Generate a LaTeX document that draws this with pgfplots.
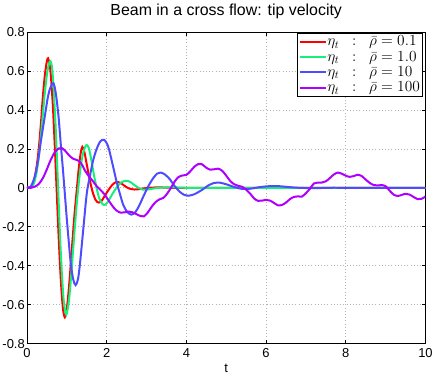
\RequirePackage{fix-cm}
\documentclass[border=0pt]{standalone}
\usepackage[no-math]{fontspec}
\setmainfont{Liberation Sans}
\usepackage{pgfplots}
\pgfplotsset{compat=1.18}

\definecolor{cred}{RGB}{255,0,0}
\definecolor{cgreen}{RGB}{20,240,120}
\definecolor{cblue}{RGB}{77,77,255}
\definecolor{cpurple}{RGB}{175,0,255}

\begin{document}
\begin{tikzpicture}
\begin{axis}[
    name=ax,
    scale only axis,
    width=399bp, height=312bp,
    xmin=0, xmax=10, ymin=-0.8, ymax=0.8,
    xtick={0,2,4,6,8,10},
    ytick={-0.8,-0.6,-0.4,-0.2,0,0.2,0.4,0.6,0.8},
    yticklabels={-0.8,-0.6,-0.4,-0.2,0,0.2,0.4,0.6,0.8},
    /pgf/number format/assume math mode=true,
    tick label style={font=\fontsize{13}{15}\selectfont},
    xticklabel style={yshift=-1.5bp},
    yticklabel style={inner xsep=0.5bp, xshift=-1.5bp},
    title={Beam in a cross flow: tip velocity},
    title style={font=\fontsize{16}{19}\selectfont, at={(axis description cs:0.5,1)}, anchor=base, yshift=11bp},
    xlabel={t},
    xlabel style={font=\fontsize{13}{15}\selectfont, at={(axis description cs:0.5,0)}, anchor=base, yshift=-29bp},
    grid=major,
    major grid style={gray!60, line width=0.6bp, dash pattern=on 0.8bp off 2.4bp},
    axis line style={line width=0.8bp},
    tick style={black, line width=0.6bp},
    major tick length=4bp,
    tick align=inside,
    every axis plot/.append style={line width=2bp, smooth},
    legend image code/.code={\draw[#1] (0bp,0bp) -- (26bp,0bp);},
    legend cell align=left,
    legend style={at={(axis description cs:0.993,0.996)}, anchor=north east,
        font=\fontsize{15.5}{16}\selectfont, draw=black, line width=0.6bp, fill=white,
        inner xsep=2bp, inner ysep=0.5bp,
        nodes={inner xsep=0.5bp, inner ysep=0bp, text height=11.8bp, text depth=3.6bp}},
]

\addplot[cred] coordinates {
(0,0) (0.1,0.003) (0.15,0.02) (0.2,0.06) (0.25,0.12) (0.3,0.21) (0.35,0.33) (0.4,0.47)
(0.45,0.58) (0.5,0.65) (0.53,0.665) (0.57,0.63) (0.6,0.575) (0.65,0.42) (0.7,0.205)
(0.75,-0.037) (0.8,-0.275) (0.85,-0.475) (0.9,-0.615) (0.95,-0.665) (1.0,-0.62)
(1.05,-0.52) (1.1,-0.39) (1.15,-0.25) (1.2,-0.12) (1.25,-0.01) (1.3,0.1) (1.35,0.18)
(1.39,0.21) (1.44,0.185) (1.5,0.12) (1.58,0.035) (1.66,-0.03) (1.73,-0.065) (1.8,-0.076)
(1.87,-0.068) (1.95,-0.042) (2.05,-0.01) (2.15,0.017) (2.25,0.03) (2.35,0.024) (2.45,0.01)
(2.55,-0.003) (2.7,-0.009) (2.85,-0.006) (3.0,-0.001) (3.3,0.002) (3.6,0) (4,0) (5,0)
(6,0) (7,0) (8,0) (9,0) (10,0)
};
\addlegendentry{$\eta_t\;\;:\;\;\bar{\rho} = 0.1$}

\addplot[cgreen] coordinates {
(0,0) (0.1,0.002) (0.15,0.012) (0.2,0.04) (0.25,0.09) (0.3,0.165) (0.35,0.265) (0.4,0.38)
(0.45,0.49) (0.5,0.58) (0.55,0.635) (0.59,0.65) (0.63,0.615) (0.67,0.51) (0.72,0.31)
(0.77,0.06) (0.82,-0.2) (0.87,-0.42) (0.92,-0.575) (0.97,-0.645) (1.0,-0.645) (1.05,-0.585)
(1.1,-0.475) (1.15,-0.34) (1.2,-0.205) (1.25,-0.08) (1.3,0.025) (1.35,0.11) (1.4,0.17)
(1.45,0.205) (1.5,0.22) (1.55,0.205) (1.6,0.16) (1.7,0.045) (1.8,-0.045) (1.88,-0.08)
(1.95,-0.088) (2.03,-0.072) (2.15,-0.03) (2.25,0.002) (2.35,0.025) (2.45,0.035) (2.52,0.036)
(2.62,0.026) (2.75,0.006) (2.9,-0.009) (3.05,-0.008) (3.2,-0.003) (3.4,0.001) (3.7,0.002)
(4,0) (5,0) (6,0) (7,0) (8,0) (9,0) (10,0)
};
\addlegendentry{$\eta_t\;\;:\;\;\bar{\rho} = 1.0$}

\addplot[cblue] coordinates {
(0,0) (0.1,0.008) (0.2,0.06) (0.28,0.14) (0.35,0.24) (0.45,0.37) (0.52,0.46) (0.58,0.51)
(0.66,0.537) (0.72,0.49) (0.79,0.37) (0.85,0.22) (0.9,0.1) (0.95,-0.03) (1.0,-0.16)
(1.05,-0.28) (1.1,-0.39) (1.16,-0.47) (1.22,-0.5) (1.28,-0.47) (1.33,-0.39) (1.41,-0.22)
(1.5,-0.03) (1.58,0.06) (1.66,0.14) (1.75,0.2) (1.84,0.238) (1.94,0.246) (2.04,0.21)
(2.16,0.11) (2.25,0.03) (2.33,-0.03) (2.42,-0.09) (2.52,-0.125) (2.62,-0.138) (2.72,-0.125)
(2.82,-0.09) (2.92,-0.045) (3.05,0.01) (3.17,0.05) (3.27,0.073) (3.35,0.078) (3.45,0.07)
(3.58,0.045) (3.7,0.01) (3.83,-0.02) (3.95,-0.037) (4.05,-0.041) (4.2,-0.033) (4.4,-0.01)
(4.55,0.012) (4.7,0.025) (4.82,0.027) (5.0,0.018) (5.2,0.004) (5.4,-0.006) (5.6,-0.005)
(5.8,0.002) (6.0,0.007) (6.25,0.009) (6.5,0.005) (6.8,0) (7.2,-0.002) (7.6,0) (8,0) (9,0) (10,0)
};
\addlegendentry{$\eta_t\;\;:\;\;\bar{\rho} = 10$}

\addplot[cpurple] coordinates {
(0,0) (0.1,0) (0.2,0.006) (0.3,0.02) (0.4,0.05) (0.5,0.095) (0.6,0.145) (0.7,0.183)
(0.8,0.202) (0.87,0.204) (0.95,0.192) (1.05,0.168) (1.15,0.15) (1.25,0.143) (1.32,0.135)
(1.4,0.112) (1.45,0.09) (1.55,0.06) (1.65,0.035) (1.75,0.008) (1.85,-0.012) (1.95,-0.035)
(2.05,-0.065) (2.15,-0.095) (2.25,-0.117) (2.35,-0.128) (2.45,-0.126) (2.55,-0.122)
(2.65,-0.126) (2.75,-0.136) (2.85,-0.145) (2.93,-0.147) (3.02,-0.13) (3.12,-0.1)
(3.22,-0.075) (3.32,-0.06) (3.42,-0.052) (3.5,-0.035) (3.6,-0.005) (3.7,0.03) (3.8,0.055)
(3.9,0.063) (4.0,0.066) (4.1,0.085) (4.2,0.108) (4.3,0.122) (4.38,0.122) (4.5,0.103)
(4.6,0.093) (4.7,0.095) (4.8,0.098) (4.9,0.087) (5.0,0.062) (5.1,0.035) (5.2,0.018)
(5.3,0.01) (5.4,0.005) (5.5,-0.01) (5.6,-0.03) (5.7,-0.055) (5.8,-0.067) (5.9,-0.066)
(6.0,-0.062) (6.1,-0.066) (6.2,-0.078) (6.3,-0.09) (6.4,-0.088) (6.5,-0.076) (6.6,-0.058)
(6.7,-0.047) (6.8,-0.044) (6.9,-0.045) (7.0,-0.028) (7.1,-0.005) (7.2,0.022) (7.3,0.027)
(7.4,0.027) (7.5,0.033) (7.6,0.05) (7.7,0.068) (7.8,0.078) (7.9,0.072) (8.0,0.062)
(8.1,0.056) (8.2,0.06) (8.3,0.067) (8.4,0.06) (8.5,0.042) (8.6,0.025) (8.7,0.014)
(8.8,0.012) (8.9,0.014) (9.0,0.008) (9.1,-0.015) (9.2,-0.035) (9.3,-0.042) (9.4,-0.037)
(9.5,-0.031) (9.6,-0.035) (9.7,-0.047) (9.8,-0.058) (9.9,-0.057) (10.0,-0.045)
};
\addlegendentry{$\eta_t\;\;:\;\;\bar{\rho} = 100$}

\end{axis}
\path (ax.south west) ++(-27bp,-33bp) rectangle ([shift={(10bp,32bp)}]ax.north east);
\end{tikzpicture}
\end{document}
